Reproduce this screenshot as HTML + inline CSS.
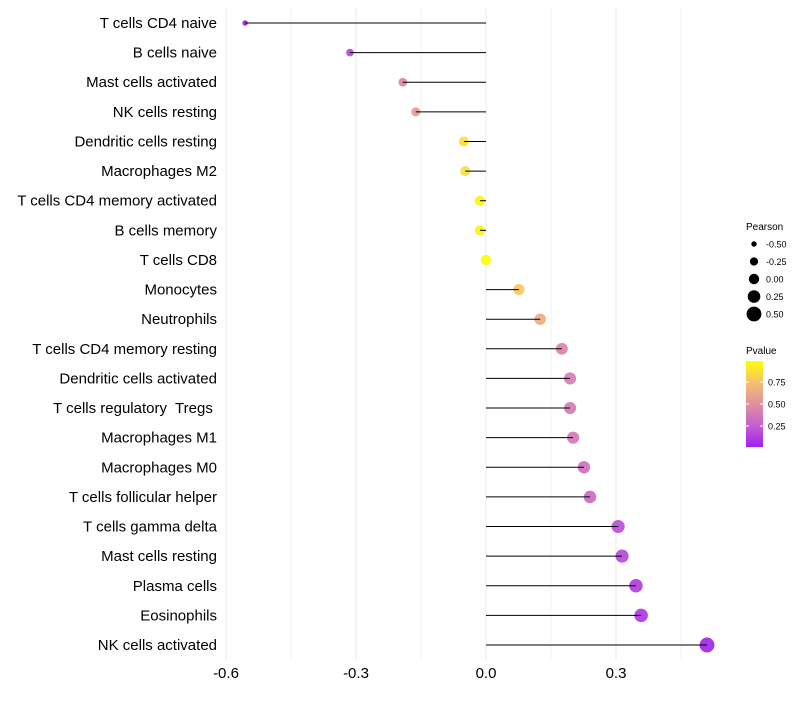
<!DOCTYPE html>
<html><head><meta charset="utf-8"><style>
body{margin:0;background:#fff;width:800px;height:700px;overflow:hidden}
text{font-family:"Liberation Sans",sans-serif}
</style></head><body>
<svg id="chart" width="800" height="700" xmlns="http://www.w3.org/2000/svg">
<defs><linearGradient id="pg" x1="0" y1="1" x2="0" y2="0">
<stop offset="0" stop-color="#a020f0"/><stop offset="0.25" stop-color="#c660d0"/><stop offset="0.5" stop-color="#e090a0"/><stop offset="0.75" stop-color="#f4c070"/><stop offset="1" stop-color="#ffff00"/></linearGradient></defs>
<g id="grid"></g><g id="marks"></g><g id="axes"></g>
<g id="legS"><text x="746" y="230" font-size="10">Pearson</text></g>
<g id="legP"><text x="746" y="354" font-size="10">Pvalue</text>
<rect x="746" y="361" width="17" height="86" fill="url(#pg)"/></g>
</svg>
<script>
const categories=["T cells CD4 naive","B cells naive","Mast cells activated","NK cells resting","Dendritic cells resting","Macrophages M2","T cells CD4 memory activated","B cells memory","T cells CD8","Monocytes","Neutrophils","T cells CD4 memory resting","Dendritic cells activated","T cells regulatory  Tregs ","Macrophages M1","Macrophages M0","T cells follicular helper","T cells gamma delta","Mast cells resting","Plasma cells","Eosinophils","NK cells activated"];
const pearson=[-0.556,-0.314,-0.192,-0.162,-0.051,-0.048,-0.014,-0.014,0.0,0.076,0.125,0.175,0.194,0.194,0.201,0.226,0.240,0.305,0.314,0.346,0.358,0.510];
const pvalues=[0.01,0.15,0.45,0.55,0.87,0.87,0.96,0.96,0.99,0.78,0.65,0.45,0.40,0.40,0.38,0.33,0.30,0.18,0.16,0.11,0.10,0.02];
const xTicks=[-0.6,-0.3,0.0,0.3];
const xTickLabels=["-0.6","-0.3","0.0","0.3"];
const sizeBreaks=[-0.5,-0.25,0,0.25,0.5];
const sizeLabels=["-0.50","-0.25","0.00","0.25","0.50"];
const pBreaks=[0.25,0.5,0.75];
const pLabels=["0.25","0.50","0.75"];
const NS="http://www.w3.org/2000/svg";
function mk(t,a,p){const e=document.createElementNS(NS,t);for(const k in a)e.setAttribute(k,a[k]);p.appendChild(e);return e;}
const x=v=>486+v*433.33;
const y=i=>23+i*(622/21);
const r=v=>Math.max(1.5,5.2+v*4.4);
const stops=[[0,[160,32,240]],[0.25,[198,96,208]],[0.5,[224,144,160]],[0.75,[244,192,112]],[1,[255,255,0]]];
function col(p){for(let k=1;k<stops.length;k++){if(p<=stops[k][0]){const a=stops[k-1],b=stops[k];const t=(p-a[0])/(b[0]-a[0]);return 'rgb('+a[1].map((c,i)=>Math.round(c+(b[1][i]-c)*t))+')';}}return 'rgb(255,255,0)';}
const grid=document.getElementById('grid'),marks=document.getElementById('marks'),axes=document.getElementById('axes');
[-0.6,-0.45,-0.3,-0.15,0,0.15,0.3,0.45].forEach(v=>{const l=mk('line',{x1:x(v),x2:x(v),y1:8,y2:660,stroke:'#ebebeb','stroke-width':xTicks.includes(v)?1:0.6},grid);

});
xTicks.forEach((v,i)=>{const t=mk('text',{x:x(v),y:678,'font-size':15,'text-anchor':'middle',fill:'#000'},axes);t.textContent=xTickLabels[i];

});
categories.forEach((c,i)=>{const t=mk('text',{x:217,y:y(i)+5,'font-size':15,'text-anchor':'end',fill:'#000'},axes);t.textContent=c;t.style.whiteSpace='pre';


const ci=mk('circle',{cx:x(pearson[i]),cy:y(i),r:r(pearson[i]),fill:col(pvalues[i]),'fill-opacity':0.92},marks);


const l=mk('line',{x1:x(0),x2:x(pearson[i]),y1:y(i),y2:y(i),stroke:'#000','stroke-width':1},marks);

});
const legS=document.getElementById('legS');
sizeBreaks.forEach((v,i)=>{const yy=244+i*17.5;const c=mk('circle',{cx:754,cy:yy,r:r(v)*(v<-0.4?0.9:1),fill:'#000'},legS);


const t=mk('text',{x:766,y:yy+3.5,'font-size':9},legS);t.textContent=sizeLabels[i];

});
const legP=document.getElementById('legP');
pBreaks.forEach((v,i)=>{const yy=448-v*88;mk('line',{x1:746,x2:749,y1:yy,y2:yy,stroke:'#fff'},legP);mk('line',{x1:760,x2:763,y1:yy,y2:yy,stroke:'#fff'},legP);
const t=mk('text',{x:768,y:yy+3.5,'font-size':9},legP);t.textContent=pLabels[i];

});
</script>
</body></html>
